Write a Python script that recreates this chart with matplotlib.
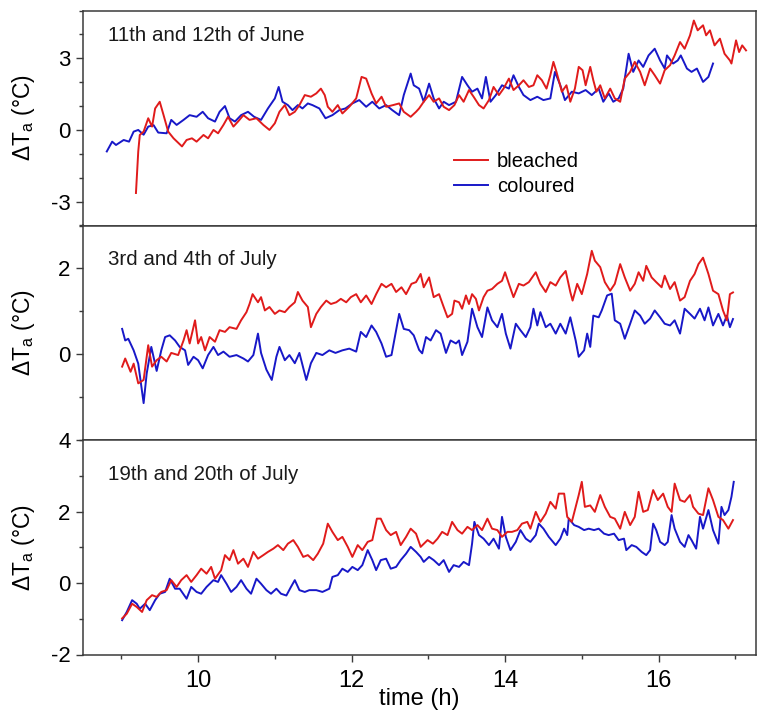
import numpy as np
import matplotlib
matplotlib.use('Agg')
import matplotlib.pyplot as plt
from matplotlib.ticker import MultipleLocator, FixedLocator

plt.rcParams['font.family'] = ['Liberation Sans', 'DejaVu Sans']
plt.rcParams['mathtext.fontset'] = 'custom'
plt.rcParams['mathtext.rm'] = 'Liberation Sans'
plt.rcParams['mathtext.it'] = 'Liberation Sans:italic'
plt.rcParams['axes.unicode_minus'] = False

#
# Data: time (h) and delta Ta (degC)
june_bl_t = [9.19, 9.22, 9.24, 9.29, 9.35, 9.40, 9.44, 9.50, 9.55, 9.61, 9.68, 9.79, 9.85, 9.92, 9.98,
             10.07, 10.13, 10.20, 10.26, 10.33, 10.39, 10.46, 10.52, 10.59, 10.67, 10.76, 10.85, 10.93,
             11.00, 11.06, 11.13, 11.19, 11.26, 11.32, 11.39, 11.47, 11.54, 11.60, 11.65, 11.69, 11.75,
             11.82, 11.88, 11.97, 12.06, 12.13, 12.19, 12.26, 12.32, 12.39, 12.45, 12.54, 12.62, 12.68,
             12.77, 12.84, 12.88, 12.94, 13.01, 13.07, 13.14, 13.20, 13.27, 13.34, 13.40, 13.46, 13.53,
             13.59, 13.66, 13.72, 13.79, 13.85, 13.92, 13.98, 14.05, 14.11, 14.18, 14.24, 14.31, 14.37,
             14.42, 14.48, 14.54, 14.59, 14.63, 14.67, 14.74, 14.80, 14.85, 14.91, 14.96, 15.01, 15.05,
             15.11, 15.15, 15.19, 15.24, 15.30, 15.37, 15.43, 15.50, 15.56, 15.63, 15.69, 15.76, 15.82,
             15.89, 15.95, 16.02, 16.08, 16.15, 16.21, 16.28, 16.34, 16.41, 16.46, 16.51, 16.58, 16.62,
             16.67, 16.73, 16.80, 16.86, 16.93, 16.95, 17.01, 17.05, 17.09, 17.14]
june_bl = [-2.64, -0.90, -0.21, -0.07, 0.49, 0.14, 0.90, 1.18, 0.62, -0.07, -0.35, -0.69, -0.42, -0.35, -0.49,
           -0.21, -0.35, 0.00, -0.14, 0.21, 0.55, 0.14, 0.35, 0.62, 0.42, 0.49, 0.21, 0.00,
           0.28, 0.76, 1.04, 0.62, 0.76, 1.04, 1.46, 1.39, 1.53, 1.73, 1.46, 0.97, 0.76,
           1.04, 0.69, 0.97, 1.32, 2.22, 2.15, 1.53, 1.11, 1.39, 0.97, 1.04, 1.11, 0.76,
           0.55, 0.76, 0.90, 1.18, 1.46, 1.18, 1.32, 0.97, 0.83, 1.04, 1.46, 1.18, 1.67,
           1.39, 1.04, 0.90, 1.25, 1.80, 1.46, 1.73, 2.15, 1.67, 1.87, 2.08, 1.80, 1.87,
           2.29, 2.08, 1.73, 2.29, 2.85, 2.43, 1.60, 1.87, 1.18, 1.73, 2.64, 2.50, 1.87,
           2.64, 2.08, 1.60, 1.87, 1.32, 1.73, 1.32, 1.18, 2.15, 2.43, 2.85, 2.43, 1.87,
           2.57, 2.29, 1.94, 2.50, 2.71, 3.12, 3.68, 3.40, 3.96, 4.58, 4.17, 4.38, 3.96,
           4.17, 3.54, 3.82, 3.19, 2.91, 2.78, 3.75, 3.26, 3.54, 3.33]

june_col_t = [8.81, 8.88, 8.93, 9.03, 9.10, 9.16, 9.22, 9.29, 9.35, 9.42, 9.48, 9.59, 9.65, 9.72, 9.81,
              9.89, 9.98, 10.06, 10.13, 10.22, 10.28, 10.35, 10.41, 10.48, 10.56, 10.65, 10.73, 10.82,
              10.91, 11.00, 11.05, 11.10, 11.17, 11.23, 11.30, 11.36, 11.43, 11.49, 11.58, 11.66, 11.75,
              11.84, 11.92, 12.01, 12.10, 12.19, 12.27, 12.36, 12.45, 12.53, 12.62, 12.68, 12.77, 12.81,
              12.88, 12.94, 13.01, 13.07, 13.14, 13.20, 13.27, 13.36, 13.44, 13.51, 13.57, 13.64, 13.70,
              13.75, 13.81, 13.88, 13.96, 14.05, 14.11, 14.18, 14.24, 14.33, 14.42, 14.50, 14.59, 14.65,
              14.72, 14.78, 14.87, 14.96, 15.05, 15.13, 15.22, 15.28, 15.35, 15.41, 15.48, 15.54, 15.61,
              15.67, 15.74, 15.80, 15.87, 15.95, 16.02, 16.08, 16.11, 16.19, 16.25, 16.29, 16.37, 16.43,
              16.50, 16.58, 16.65, 16.71]
june_col = [-0.90, -0.49, -0.63, -0.42, -0.49, -0.07, 0.00, -0.20, 0.14, 0.20, -0.11, -0.14, 0.42, 0.21, 0.42,
            0.62, 0.55, 0.76, 0.49, 0.35, 0.76, 1.00, 0.49, 0.35, 0.62, 0.76, 0.55, 0.42,
            0.90, 1.32, 1.80, 1.18, 1.04, 0.83, 1.04, 0.90, 1.11, 1.04, 0.90, 0.49, 0.62,
            0.83, 0.90, 1.11, 1.25, 0.97, 1.18, 0.90, 1.04, 0.83, 0.62, 1.46, 2.36, 1.87,
            1.73, 1.18, 1.94, 1.32, 0.90, 1.18, 1.04, 1.18, 2.22, 1.87, 1.60, 1.73, 1.32,
            2.22, 1.18, 1.46, 1.87, 1.73, 2.29, 1.80, 1.46, 1.25, 1.39, 1.25, 1.32, 2.43,
            1.87, 1.25, 1.60, 1.53, 1.67, 1.46, 1.73, 1.18, 1.53, 1.18, 1.32, 1.73, 3.19,
            2.43, 2.91, 2.64, 3.12, 3.40, 2.91, 2.57, 3.12, 2.78, 2.91, 3.12, 2.57, 2.43,
            2.57, 2.01, 2.22, 2.78]

jul3_bl_t = [9.01, 9.05, 9.12, 9.16, 9.22, 9.29, 9.35, 9.40, 9.46, 9.52, 9.59, 9.65, 9.74, 9.81, 9.85,
             9.89, 9.96, 10.00, 10.04, 10.09, 10.15, 10.22, 10.28, 10.35, 10.41, 10.50, 10.56, 10.63,
             10.67, 10.71, 10.78, 10.82, 10.87, 10.93, 11.00, 11.06, 11.13, 11.19, 11.26, 11.30, 11.36,
             11.43, 11.47, 11.54, 11.60, 11.67, 11.73, 11.80, 11.86, 11.93, 11.99, 12.06, 12.12, 12.19,
             12.26, 12.32, 12.39, 12.45, 12.52, 12.58, 12.65, 12.71, 12.78, 12.84, 12.90, 12.94, 13.01,
             13.07, 13.14, 13.20, 13.25, 13.31, 13.34, 13.40, 13.44, 13.49, 13.53, 13.57, 13.62, 13.66,
             13.72, 13.77, 13.83, 13.90, 13.96, 14.00, 14.05, 14.11, 14.18, 14.24, 14.31, 14.40, 14.46,
             14.53, 14.59, 14.66, 14.72, 14.79, 14.85, 14.88, 14.94, 15.00, 15.07, 15.13, 15.17, 15.24,
             15.30, 15.37, 15.43, 15.50, 15.56, 15.63, 15.69, 15.74, 15.80, 15.84, 15.91, 15.97, 16.04,
             16.08, 16.15, 16.21, 16.28, 16.34, 16.41, 16.47, 16.52, 16.58, 16.65, 16.71, 16.78, 16.84,
             16.89, 16.93, 16.97]
jul3_bl = [-0.29, -0.10, -0.41, -0.22, -0.68, -0.60, 0.21, -0.29, -0.14, -0.06, -0.17, 0.03, -0.02, 0.32, 0.56,
           0.25, 0.79, 0.25, 0.40, 0.09, 0.40, 0.29, 0.56, 0.52, 0.63, 0.59, 0.79, 0.98,
           1.17, 1.40, 1.21, 1.33, 1.02, 1.10, 0.94, 1.02, 0.98, 1.10, 1.21, 1.45, 1.25,
           1.10, 0.63, 0.94, 1.10, 1.25, 1.17, 1.21, 1.29, 1.21, 1.33, 1.40, 1.21, 1.37,
           1.17, 1.40, 1.64, 1.56, 1.64, 1.45, 1.56, 1.40, 1.64, 1.68, 1.87, 1.56, 1.79,
           1.33, 1.40, 1.10, 0.86, 0.94, 1.25, 1.21, 1.06, 1.37, 1.17, 1.40, 1.29, 1.02,
           1.33, 1.48, 1.52, 1.64, 1.71, 1.91, 1.64, 1.33, 1.64, 1.60, 1.68, 1.91, 1.64,
           1.45, 1.68, 1.60, 1.79, 1.94, 1.45, 1.25, 1.64, 1.40, 1.87, 2.41, 2.18, 2.03,
           1.68, 1.48, 1.64, 2.10, 1.79, 1.48, 1.64, 1.91, 1.71, 2.06, 1.79, 1.68, 1.56,
           1.83, 1.52, 1.68, 1.25, 1.33, 1.71, 1.87, 2.10, 2.25, 1.87, 1.48, 1.40, 1.02,
           0.79, 1.40, 1.44]

jul3_col_t = [9.01, 9.05, 9.09, 9.16, 9.22, 9.29, 9.33, 9.39, 9.46, 9.52, 9.57, 9.63, 9.70, 9.76, 9.83,
              9.87, 9.94, 10.00, 10.06, 10.13, 10.20, 10.26, 10.33, 10.41, 10.50, 10.59, 10.65, 10.72,
              10.78, 10.82, 10.89, 10.96, 11.02, 11.06, 11.13, 11.19, 11.26, 11.32, 11.41, 11.47, 11.54,
              11.62, 11.71, 11.79, 11.88, 11.97, 12.06, 12.12, 12.19, 12.26, 12.32, 12.39, 12.45, 12.52,
              12.58, 12.62, 12.68, 12.75, 12.81, 12.88, 12.92, 12.97, 13.03, 13.10, 13.16, 13.23, 13.29,
              13.36, 13.40, 13.44, 13.51, 13.57, 13.64, 13.70, 13.77, 13.83, 13.90, 13.96, 14.01, 14.07,
              14.14, 14.20, 14.27, 14.33, 14.37, 14.42, 14.46, 14.53, 14.59, 14.66, 14.72, 14.79, 14.85,
              14.92, 14.96, 15.03, 15.07, 15.11, 15.15, 15.22, 15.26, 15.33, 15.39, 15.43, 15.50, 15.56,
              15.63, 15.69, 15.76, 15.82, 15.89, 15.95, 16.02, 16.08, 16.15, 16.21, 16.28, 16.34, 16.41,
              16.47, 16.54, 16.60, 16.65, 16.71, 16.78, 16.84, 16.89, 16.93, 16.97]
jul3_col = [0.59, 0.32, 0.36, 0.09, -0.22, -1.14, -0.45, 0.17, -0.39, 0.09, 0.40, 0.44, 0.32, 0.17, 0.09,
            -0.25, -0.06, -0.14, -0.33, -0.02, 0.17, -0.02, 0.06, -0.06, -0.02, -0.10, -0.17, -0.02,
            0.48, 0.03, -0.36, -0.60, -0.06, 0.17, -0.14, -0.02, -0.21, 0.03, -0.60, -0.21, 0.03,
            -0.02, 0.09, 0.03, 0.09, 0.13, 0.06, 0.52, 0.40, 0.67, 0.52, 0.25, -0.06, -0.02,
            0.56, 0.94, 0.59, 0.56, 0.44, 0.10, 0.02, 0.40, 0.32, 0.56, 0.48, 0.03, 0.32,
            0.25, 0.32, -0.02, 0.29, 1.06, 0.63, 0.40, 1.09, 0.79, 0.63, 0.94, 0.48, 0.13,
            0.71, 0.56, 0.40, 0.63, 1.06, 0.67, 0.98, 0.63, 0.71, 0.48, 0.71, 0.48, 0.86,
            0.32, -0.06, 0.09, 0.48, 0.17, 0.90, 0.86, 1.02, 1.37, 1.41, 0.79, 0.71, 0.36,
            0.71, 1.02, 0.90, 0.71, 0.83, 1.02, 0.86, 0.71, 0.67, 0.79, 0.48, 1.06, 0.94,
            0.83, 1.06, 0.79, 1.09, 0.67, 0.94, 0.67, 0.90, 0.63, 0.82]

jul19_bl_t = [9.01, 9.07, 9.14, 9.20, 9.27, 9.33, 9.40, 9.46, 9.52, 9.59, 9.65, 9.72, 9.78, 9.85, 9.91,
              9.98, 10.04, 10.11, 10.17, 10.22, 10.30, 10.35, 10.41, 10.46, 10.52, 10.59, 10.65, 10.72,
              10.78, 10.85, 10.91, 10.98, 11.04, 11.11, 11.17, 11.24, 11.30, 11.37, 11.43, 11.50, 11.56,
              11.63, 11.69, 11.75, 11.82, 11.88, 11.95, 12.01, 12.08, 12.14, 12.21, 12.27, 12.33, 12.38,
              12.45, 12.51, 12.58, 12.64, 12.71, 12.77, 12.84, 12.90, 12.99, 13.06, 13.12, 13.18, 13.25,
              13.31, 13.38, 13.44, 13.51, 13.57, 13.64, 13.70, 13.77, 13.83, 13.90, 13.96, 14.03, 14.09,
              14.16, 14.22, 14.29, 14.33, 14.40, 14.46, 14.53, 14.59, 14.66, 14.70, 14.77, 14.81, 14.87,
              14.92, 14.96, 15.00, 15.04, 15.11, 15.17, 15.24, 15.30, 15.37, 15.43, 15.50, 15.56, 15.63,
              15.69, 15.74, 15.80, 15.86, 15.93, 15.99, 16.06, 16.12, 16.17, 16.21, 16.28, 16.34, 16.41,
              16.45, 16.52, 16.58, 16.65, 16.71, 16.78, 16.84, 16.91, 16.97]
jul19_bl = [-0.99, -0.86, -0.58, -0.67, -0.81, -0.48, -0.34, -0.39, -0.25, -0.20, 0.08, -0.11, 0.08, 0.22, 0.03,
            0.22, 0.40, 0.26, 0.45, 0.12, 0.36, 0.78, 0.64, 0.92, 0.54, 0.68, 0.45, 0.87,
            0.68, 0.78, 0.87, 0.96, 1.06, 0.92, 1.10, 1.20, 1.01, 0.73, 0.78, 0.64, 0.82,
            1.10, 1.66, 1.43, 1.20, 1.29, 1.01, 0.73, 1.06, 0.92, 1.15, 1.20, 1.80, 1.80,
            1.48, 1.34, 1.43, 1.06, 1.29, 1.52, 1.38, 1.01, 1.20, 1.10, 1.24, 1.43, 1.34,
            1.71, 1.48, 1.38, 1.57, 1.48, 1.62, 1.48, 1.80, 1.52, 1.48, 1.29, 1.43, 1.43,
            1.48, 1.66, 1.71, 1.52, 1.99, 1.71, 1.94, 2.27, 2.08, 2.50, 2.50, 1.85, 1.71,
            2.13, 2.46, 2.83, 2.13, 2.17, 1.99, 2.46, 2.13, 1.85, 1.80, 1.52, 1.99, 1.62,
            1.85, 2.55, 1.99, 2.04, 2.60, 2.32, 2.50, 2.13, 1.99, 2.78, 2.32, 2.27, 2.46,
            2.13, 1.94, 1.90, 2.65, 2.32, 1.85, 1.76, 1.52, 1.76]

jul19_col_t = [9.01, 9.07, 9.14, 9.20, 9.24, 9.31, 9.37, 9.44, 9.50, 9.57, 9.63, 9.70, 9.76, 9.85, 9.91,
               9.98, 10.04, 10.11, 10.20, 10.26, 10.30, 10.37, 10.43, 10.50, 10.56, 10.63, 10.69, 10.76,
               10.82, 10.89, 10.95, 11.02, 11.08, 11.15, 11.21, 11.26, 11.32, 11.39, 11.45, 11.54, 11.62,
               11.71, 11.75, 11.82, 11.88, 11.95, 12.01, 12.08, 12.14, 12.21, 12.27, 12.32, 12.38, 12.45,
               12.51, 12.58, 12.64, 12.71, 12.77, 12.84, 12.90, 12.94, 13.01, 13.07, 13.14, 13.20, 13.27,
               13.33, 13.40, 13.46, 13.53, 13.57, 13.60, 13.66, 13.72, 13.79, 13.85, 13.92, 13.96, 14.01,
               14.07, 14.14, 14.20, 14.27, 14.33, 14.40, 14.44, 14.50, 14.57, 14.66, 14.72, 14.77, 14.81,
               14.83, 14.90, 14.96, 15.03, 15.09, 15.16, 15.22, 15.29, 15.35, 15.42, 15.48, 15.55, 15.58,
               15.65, 15.71, 15.78, 15.84, 15.89, 15.93, 15.97, 16.02, 16.08, 16.12, 16.17, 16.21, 16.28,
               16.34, 16.39, 16.43, 16.49, 16.54, 16.58, 16.65, 16.71, 16.78, 16.82, 16.86, 16.91, 16.95,
               16.98]
jul19_col = [-1.04, -0.81, -0.48, -0.58, -0.72, -0.58, -0.76, -0.48, -0.30, -0.25, 0.12, -0.16, -0.16, -0.44, -0.11,
             -0.25, -0.30, -0.11, 0.08, 0.03, 0.22, -0.02, -0.25, -0.11, 0.08, -0.16, -0.30, 0.12,
             -0.02, -0.20, -0.30, -0.16, -0.30, -0.35, -0.11, 0.08, -0.20, -0.25, -0.20, -0.20, -0.25,
             -0.16, 0.17, 0.22, 0.40, 0.31, 0.45, 0.36, 0.50, 0.92, 0.64, 0.36, 0.64, 0.68,
             0.40, 0.45, 0.64, 0.82, 1.01, 0.87, 0.73, 0.59, 0.73, 0.64, 0.50, 0.64, 0.31,
             0.50, 0.45, 0.59, 0.50, 1.10, 1.71, 1.34, 1.24, 1.06, 1.24, 0.96, 1.85, 1.29,
             0.92, 1.15, 1.48, 1.24, 1.15, 1.34, 1.66, 1.52, 1.29, 1.06, 1.24, 1.52, 1.34,
             1.80, 1.62, 1.57, 1.48, 1.52, 1.48, 1.52, 1.38, 1.34, 1.38, 1.20, 1.24, 0.92,
             1.06, 1.01, 0.87, 0.78, 0.92, 1.66, 1.48, 1.15, 1.06, 1.15, 1.90, 1.52, 1.15,
             1.01, 1.34, 1.20, 0.96, 1.85, 1.52, 2.04, 1.48, 1.10, 2.13, 1.90, 2.04, 2.41,
             2.83]

panel_titles = ['11th and 12th of June', '3rd and 4th of July', '19th and 20th of July']
ylims = [(-4, 5), (-2, 3), (-2, 4)]
yticks = [[-3, 0, 3], [0, 2], [-2, 0, 2, 4]]
title_y = [0.885, 0.84, 0.84]

red = '#e01b1b'
blue = '#1818c8'
frame = '#3a3a3a'

fig = plt.figure(figsize=(7.61, 7.10), dpi=100)
left, right = 83 / 761, 756 / 761
edges = [1 - 10.5 / 710, 1 - 225.5 / 710, 1 - 440 / 710, 1 - 654.5 / 710]

series = [(june_bl_t, june_bl, june_col_t, june_col),
          (jul3_bl_t, jul3_bl, jul3_col_t, jul3_col),
          (jul19_bl_t, jul19_bl, jul19_col_t, jul19_col)]

axes = []
for i in range(3):
    ax = fig.add_axes([left, edges[i + 1], right - left, edges[i] - edges[i + 1]])
    axes.append(ax)
    bt, bv, ct, cv = series[i]
    ax.plot(ct, cv, color=blue, lw=1.4, label='coloured', zorder=2)
    ax.plot(bt, bv, color=red, lw=1.4, label='bleached', zorder=3)
    ax.set_xlim(8.5, 17.27)
    ax.set_ylim(*ylims[i])
    ax.yaxis.set_major_locator(FixedLocator(yticks[i]))
    ax.yaxis.set_minor_locator(MultipleLocator(1))
    ax.xaxis.set_major_locator(MultipleLocator(2))
    ax.xaxis.set_minor_locator(MultipleLocator(1))
    ax.tick_params(axis='y', which='major', direction='out', length=5, width=1, color=frame,
                   labelsize=16, pad=4)
    ax.tick_params(axis='y', which='minor', direction='out', length=3, width=1, color=frame)
    if i < 2:
        ax.tick_params(axis='x', which='both', bottom=False, labelbottom=False)
    else:
        ax.tick_params(axis='x', which='major', direction='out', length=5, width=1, color=frame,
                       labelsize=17, pad=6)
        ax.tick_params(axis='x', which='minor', direction='out', length=3, width=1, color=frame)
    for sp in ax.spines.values():
        sp.set_color(frame)
        sp.set_linewidth(1.1)
    ax.text(0.037, title_y[i], panel_titles[i], transform=ax.transAxes, fontsize=14.8,
            ha='left', va='center', color='#1a1a1a')
    ax.set_ylabel(r'$\Delta$T$_\mathrm{a}$ (°C)', fontsize=16.5)
    ax.yaxis.set_label_coords(-0.068, 0.5)

# legend in the top panel, bleached first
h, l = axes[0].get_legend_handles_labels()
axes[0].legend(h[::-1], l[::-1], loc='upper left', bbox_to_anchor=(0.551, 0.34), frameon=False,
               fontsize=14.5, handlelength=1.7, handletextpad=0.45, labelspacing=0.3,
               borderpad=0, borderaxespad=0)

axes[2].set_xlabel('time (h)', fontsize=17, labelpad=-3)

fig.savefig('out.png', dpi=100)
